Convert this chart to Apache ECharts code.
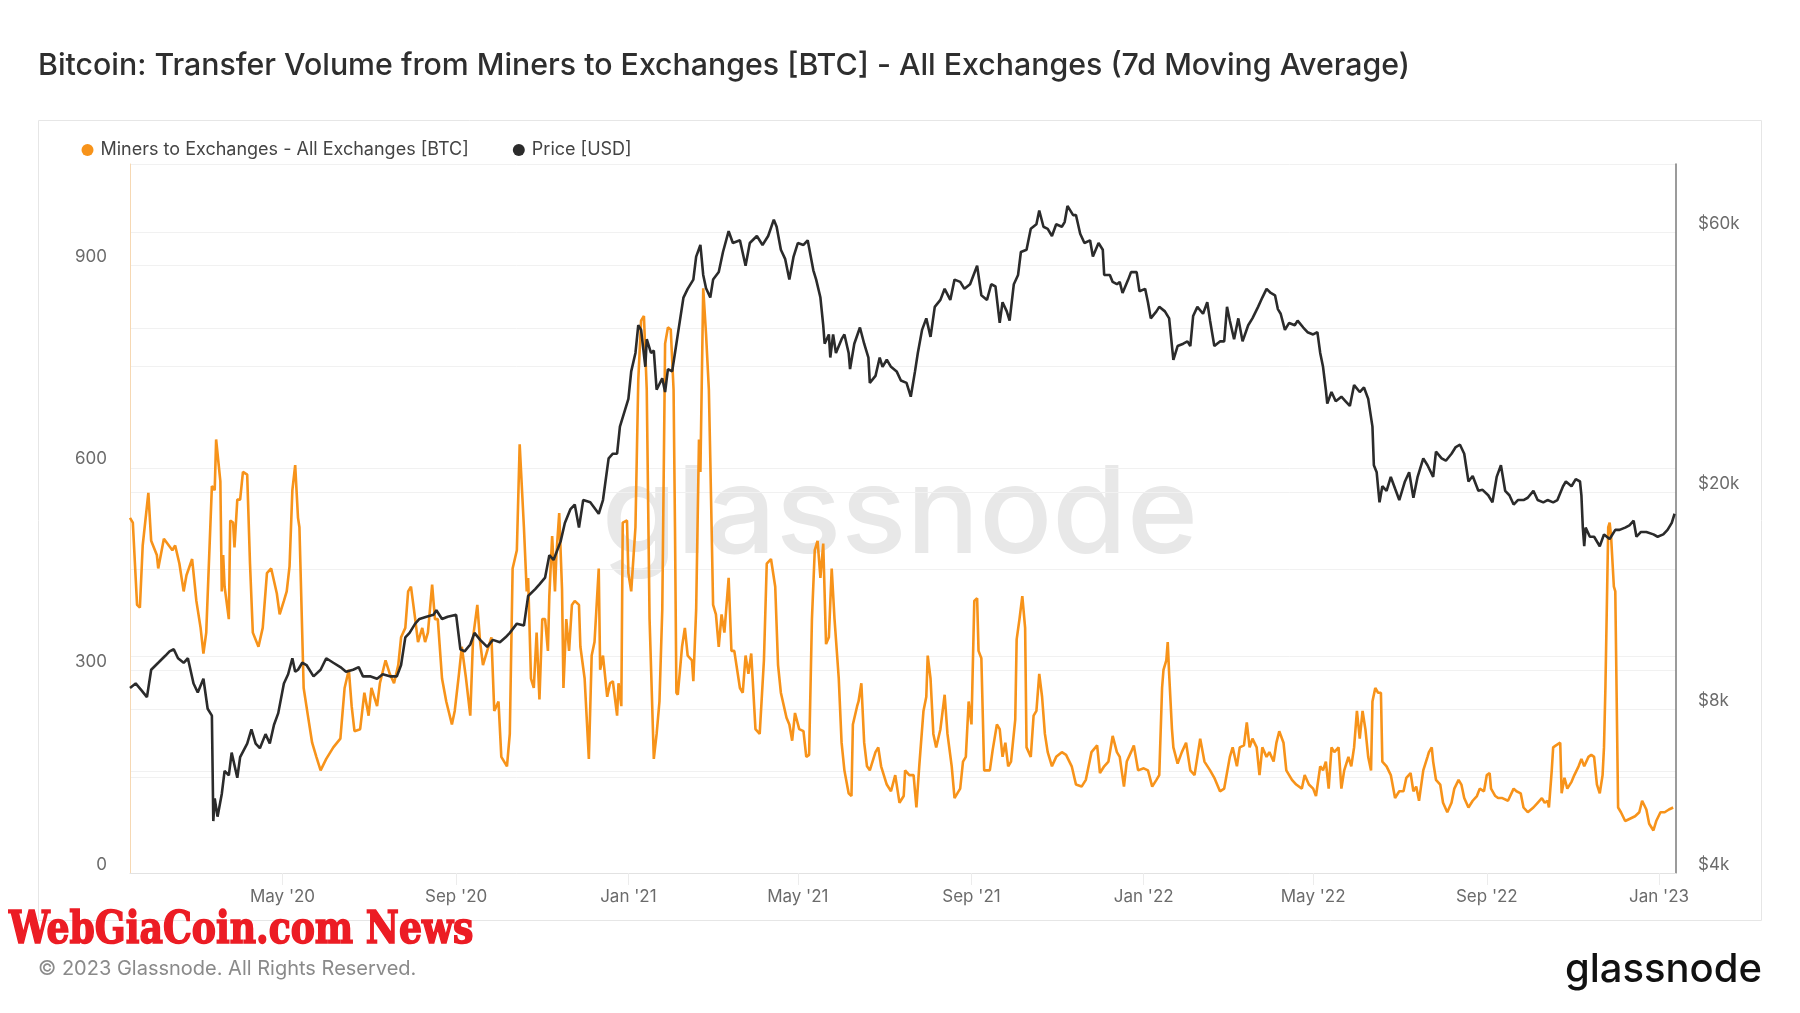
<!DOCTYPE html>
<html>
<head>
<meta charset="utf-8">
<script src="https://cdn.jsdelivr.net/npm/echarts@6/dist/echarts.min.js"></script>
<style>
html,body{margin:0;padding:0;background:#ffffff;}
#chart{width:1800px;height:1013px;}
</style>
</head>
<body>
<div id="chart"></div>
<script>
// ---------------- DATA ----------------
const TITLE = 'Bitcoin: Transfer Volume from Miners to Exchanges [BTC] - All Exchanges (7d Moving Average)';
const SERIES_NAMES = ['Miners to Exchanges - All Exchanges [BTC]', 'Price [USD]'];
// day 0 = 14 Jan 2020 ; x values below are days since that date
const DAY0 = '2020-01-14';
const X_RANGE_DAYS = [0, 1095];

// [days since DAY0, BTC (7d MA)]
const minersToExchangesBTC = [
[0,526],[2,519],[5,397],[7,393],[9,485],[13,563],[15,492],[19,471],[20,451],[24,495],
[30,478],[32,485],[35,458],[38,417],[40,441],[44,465],[47,403],[50,363],[52,325],[54,356],
[58,573],[60,567],[61,642],[64,580],[65,417],[66,471],[67,424],[70,376],[71,522],[73,519],
[74,482],[76,553],[78,553],[80,594],[83,590],[85,458],[87,356],[91,335],[94,363],[97,444],
[100,451],[104,414],[106,383],[109,403],[111,417],[113,454],[115,567],[117,604],[119,526],[120,512],
[123,274],[126,233],[129,193],[132,172],[135,152],[139,169],[144,186],[149,199],[152,274],[155,301],
[157,247],[159,210],[163,213],[166,267],[169,233],[171,274],[175,247],[177,281],[181,315],[184,295],
[187,281],[190,308],[192,349],[195,363],[197,417],[199,424],[202,376],[204,342],[207,363],[209,342],
[211,356],[214,427],[216,376],[218,376],[221,288],[224,254],[228,220],[230,240],[233,295],[235,335],
[238,288],[241,233],[243,349],[246,397],[248,342],[250,308],[253,329],[256,349],[258,240],[261,254],
[263,172],[267,158],[269,206],[271,451],[274,478],[276,635],[279,512],[281,417],[282,437],[284,288],
[286,274],[288,356],[290,257],[292,376],[294,376],[296,329],[297,410],[299,499],[301,417],[302,471],
[304,533],[306,420],[307,274],[309,376],[311,329],[313,397],[315,403],[318,397],[319,335],[322,288],
[325,169],[327,322],[329,342],[332,451],[333,301],[335,322],[338,261],[340,281],[342,284],[345,233],
[346,281],[348,247],[349,519],[352,522],[353,444],[355,417],[358,512],[360,730],[362,818],[364,825],
[366,716],[368,376],[371,169],[373,206],[375,254],[377,390],[379,784],[381,808],[383,805],[385,716],
[386,512],[387,267],[388,264],[391,335],[393,363],[395,322],[398,315],[399,284],[401,390],[403,642],
[404,594],[406,866],[408,798],[410,716],[411,614],[413,397],[415,383],[417,335],[419,383],[421,356],
[424,437],[426,329],[428,329],[432,274],[434,267],[436,322],[438,295],[440,325],[443,213],[446,206],
[449,315],[451,458],[454,465],[457,424],[459,308],[461,267],[465,230],[467,220],[469,196],[471,237],
[474,213],[477,210],[479,172],[481,175],[483,376],[485,478],[487,492],[489,437],[491,488],[493,339],
[495,349],[497,451],[499,376],[502,288],[504,193],[506,152],[509,118],[511,114],[512,220],[515,247],
[516,254],[518,281],[520,193],[522,158],[524,152],[528,179],[530,186],[532,158],[536,131],[539,121],
[542,145],[545,104],[548,114],[549,152],[552,145],[555,145],[557,97],[559,158],[562,240],[564,261],
[565,322],[567,288],[569,206],[571,186],[574,213],[577,264],[579,206],[582,158],[584,111],[588,125],
[590,165],[592,172],[594,254],[596,220],[598,403],[600,407],[601,329],[603,318],[605,152],[609,152],
[611,182],[614,220],[616,213],[618,172],[620,193],[622,158],[624,165],[627,227],[628,346],[630,376],
[632,410],[634,363],[635,186],[638,172],[640,233],[642,240],[644,295],[646,261],[648,206],[650,179],
[653,158],[656,172],[660,179],[663,175],[667,158],[670,131],[674,128],[677,138],[681,179],[685,189],
[687,148],[690,158],[693,165],[696,203],[699,179],[701,172],[704,128],[706,165],[709,179],[711,189],
[714,152],[718,155],[721,152],[724,128],[727,138],[729,145],[731,274],[732,301],[734,315],[735,342],
[736,295],[738,213],[739,186],[742,162],[745,179],[748,193],[751,152],[754,145],[758,199],[761,165],
[765,152],[768,141],[772,121],[775,125],[779,172],[781,186],[784,158],[786,186],[789,189],[791,223],
[793,186],[795,199],[798,186],[800,145],[802,186],[805,172],[807,179],[810,165],[812,193],[814,210],
[817,193],[819,152],[823,138],[826,131],[830,125],[832,145],[835,131],[838,125],[840,114],[843,158],
[845,152],[847,165],[849,125],[851,186],[853,179],[856,186],[858,125],[860,152],[863,172],[865,158],
[867,186],[869,240],[871,199],[873,240],[875,213],[877,172],[879,152],[880,254],[882,274],[884,267],
[886,267],[887,165],[890,158],[893,145],[896,111],[899,121],[902,121],[904,141],[907,148],[909,121],
[911,128],[913,107],[916,152],[919,172],[920,179],[922,186],[923,165],[925,138],[928,131],[930,104],
[933,90],[936,104],[938,125],[941,138],[943,131],[945,111],[948,97],[951,107],[954,114],[956,125],
[959,121],[961,145],[963,148],[964,125],[967,114],[969,111],[972,111],[976,107],[980,125],[982,121],
[985,118],[987,97],[990,90],[994,97],[997,104],[1000,111],[1002,104],[1004,107],[1005,97],[1007,152],
[1008,186],[1010,189],[1013,193],[1014,118],[1016,141],[1018,125],[1021,135],[1023,145],[1026,158],[1028,169],
[1030,158],[1033,172],[1035,175],[1037,172],[1039,131],[1041,118],[1043,145],[1044,186],[1045,274],[1047,512],
[1048,519],[1049,499],[1051,424],[1052,417],[1054,97],[1056,90],[1059,77],[1062,80],[1066,84],[1069,90],
[1071,107],[1074,94],[1076,73],[1079,63],[1081,77],[1084,90],[1087,90],[1090,94],[1093,97]
];

// [days since DAY0, BTC price USD]
const btcPriceUSD = [
[0,8744],[4,8911],[8,8661],[12,8411],[15,9443],[20,9724],[25,10015],[28,10202],[31,10296],[34,9911],
[38,9724],[41,9911],[45,8911],[48,8578],[52,9088],[55,8005],[58,7776],[59,4981],[60,5481],[62,5075],
[65,5585],[67,6158],[70,6044],[72,6652],[76,5981],[78,6527],[83,6912],[86,7339],[89,6912],[92,6777],
[96,7193],[99,6912],[102,7485],[105,7860],[109,8911],[112,9265],[115,9911],[117,9359],[119,9443],[122,9724],
[125,9630],[130,9182],[135,9443],[139,9911],[144,9724],[149,9547],[153,9359],[158,9443],[162,9547],[165,9182],
[170,9182],[175,9088],[179,9265],[184,9182],[189,9182],[192,9630],[195,10826],[198,11034],[202,11471],[205,11700],
[210,11814],[215,11908],[217,12137],[221,11700],[225,11814],[231,11908],[234,10296],[237,10202],[241,10504],[244,11034],
[248,10712],[253,10400],[257,10712],[262,10608],[266,10826],[269,11034],[274,11471],[279,11378],[282,12896],[287,13270],
[290,13541],[294,13936],[297,15316],[300,15016],[305,16239],[308,17556],[312,18614],[315,18977],[318,17214],[321,19340],
[326,19153],[332,18251],[335,19340],[339,23063],[342,23519],[345,23519],[347,26372],[351,28514],[353,29653],[355,33306],
[358,36008],[360,40479],[362,39692],[365,33958],[366,38160],[369,36008],[371,36360],[373,30822],[377,32354],[379,30522],
[381,33627],[384,33306],[386,36008],[388,38937],[392,45499],[395,47208],[399,49088],[401,54098],[404,56815],[406,50059],
[408,47311],[411,45499],[413,49088],[417,50669],[420,55162],[424,60224],[427,57290],[432,57951],[436,52043],[439,57290],
[444,59015],[448,56815],[452,59015],[456,63240],[458,61360],[461,55699],[464,53582],[467,49088],[470,54098],[473,57290],
[477,56815],[480,57951],[484,51051],[486,49088],[489,45499],[491,40479],[492,37436],[495,38937],[496,35314],[498,38937],
[500,36008],[504,38160],[506,38937],[509,36008],[510,33627],[513,37436],[517,40086],[520,37436],[523,35314],[524,31733],
[528,32675],[531,35314],[533,33958],[536,34983],[539,33958],[543,33306],[546,32054],[550,31733],[553,29932],[556,33306],
[558,36008],[561,39692],[564,41669],[567,38533],[570,43749],[574,45054],[577,47208],[581,45054],[584,49088],[588,48613],
[591,47208],[595,48138],[600,52043],[603,45933],[607,45054],[610,48138],[613,47673],[616,40872],[618,44619],[621,42921],
[623,41265],[626,48138],[629,50059],[631,55162],[635,55699],[638,60823],[642,62011],[644,65730],[647,61360],[650,60823],
[653,59015],[656,62011],[660,61360],[662,62600],[664,67011],[668,64470],[670,64470],[673,59594],[676,57290],[680,57951],
[682,54098],[686,57290],[689,55699],[690,50059],[694,50059],[696,48613],[699,48138],[701,48613],[703,46389],[707,49088],
[709,50669],[713,50669],[715,46733],[719,47208],[721,44619],[723,41669],[727,42921],[729,43749],[733,42921],[736,41669],
[739,34983],[742,37074],[746,37436],[749,37809],[751,37074],[753,42083],[756,43749],[760,42497],[763,44619],[765,41265],
[768,37074],[772,37809],[775,37809],[777,43749],[779,41265],[782,38160],[785,41669],[788,37809],[792,40479],[795,41669],
[799,43749],[802,45499],[805,47208],[808,46389],[811,45933],[813,43335],[815,42497],[818,39692],[821,40872],[825,40479],
[827,41265],[831,40086],[834,39309],[838,38937],[841,39309],[843,36008],[845,33958],[847,30822],[848,29073],[851,30522],
[854,29353],[858,29932],[861,29353],[864,28783],[867,31433],[871,30522],[874,31122],[877,29653],[880,26372],[881,22399],
[883,21746],[885,19153],[887,20501],[890,20107],[893,21321],[896,20304],[899,19340],[903,20916],[906,21746],[909,19527],
[912,21331],[916,23063],[919,22399],[923,21331],[925,23737],[929,23063],[932,22835],[936,23519],[939,24193],[942,24432],
[945,23519],[948,20916],[951,21414],[955,20107],[958,20190],[962,19734],[965,19153],[968,21331],[971,22399],[974,20107],
[977,19734],[980,18977],[983,19340],[987,19340],[990,19527],[994,20107],[997,19340],[1001,19153],[1004,19340],[1008,19153],
[1011,19340],[1015,20501],[1017,20916],[1021,20501],[1024,21124],[1027,20916],[1028,19734],[1029,17214],[1030,15908],[1031,17214],
[1034,16561],[1037,16561],[1041,15908],[1044,16727],[1048,16405],[1052,17048],[1055,17048],[1059,17214],[1062,17380],[1065,17722],
[1067,16561],[1070,16893],[1074,16893],[1079,16727],[1082,16561],[1086,16727],[1089,17048],[1092,17556],[1094,18251]
];

// x-axis tick dates and labels
const xTickDates  = ['2020-05-01','2020-09-01','2021-01-01','2021-05-01','2021-09-01','2022-01-01','2022-05-01','2022-09-01','2023-01-01'];
const xTickLabels = ["May '20","Sep '20","Jan '21","May '21","Sep '21","Jan '22","May '22","Sep '22","Jan '23"];
// left axis (BTC)
const leftRange = [0, 1050];
const leftGridStep = 150;
const leftTickValues = [0, 300, 600, 900];
// right axis (USD, log)
const rightRange = [4000, 80000];
const rightGridValues = [4000, 6000, 8000, 10000, 20000, 40000, 60000];
const rightTickValues = [4000, 8000, 20000, 60000];
const rightTickLabels = ['$4k', '$8k', '$20k', '$60k'];

// ---------------- CHART ----------------
const FONT = 'Inter, "Noto Sans", sans-serif';
const DAY_MS = 86400000;
const utc = s => { const p = s.split('-').map(Number); return Date.UTC(p[0], p[1] - 1, p[2]); };
const dateToDay = s => Math.round((utc(s) - utc(DAY0)) / DAY_MS);
const xTickDays = xTickDates.map(dateToDay);

const chart = echarts.init(document.getElementById('chart'), null, { renderer: 'canvas' });

const axisLabelStyle = { color: '#6b6b6b', fontSize: 17, fontFamily: FONT };

const option = {
  animation: false,
  backgroundColor: '#ffffff',
  textStyle: { fontFamily: FONT },
  title: {
    text: TITLE, left: 38, top: 48, padding: 0,
    textStyle: { fontFamily: FONT, fontSize: 30.3, fontWeight: 500, color: '#2e2e2e', lineHeight: 36 }
  },
  legend: {
    left: 81.5, top: 140, padding: 0, itemGap: 44, itemWidth: 16, itemHeight: 12, icon: 'circle',
    textStyle: { fontFamily: FONT, fontSize: 18, color: '#444444', lineHeight: 20 },
    data: SERIES_NAMES
  },
  grid: { left: 130, right: 124, top: 164, bottom: 140, containLabel: false },
  xAxis: {
    type: 'value',
    min: X_RANGE_DAYS[0], max: X_RANGE_DAYS[1],
    axisLine: { show: true, onZero: false, lineStyle: { color: '#e2e2e2', width: 1 } },
    axisTick: { show: true, customValues: xTickDays, length: 12, lineStyle: { color: '#ececec' } },
    axisLabel: Object.assign({
      customValues: xTickDays, margin: 15,
      formatter: v => { const i = xTickDays.indexOf(v); return i >= 0 ? xTickLabels[i] : ''; }
    }, axisLabelStyle),
    splitLine: { show: false }
  },
  yAxis: [
    {
      type: 'value', position: 'left', min: leftRange[0], max: leftRange[1], interval: leftGridStep,
      axisLine: { show: true, lineStyle: { color: '#f6d8b3', width: 1 } },
      axisTick: { show: false },
      axisLabel: Object.assign({
        customValues: leftTickValues, margin: 23, verticalAlign: 'bottom', padding: 0
      }, axisLabelStyle),
      splitLine: { show: true, lineStyle: { color: '#f1f1f1', width: 1 } }
    },
    {
      type: 'log', logBase: 10, position: 'right', min: rightRange[0], max: rightRange[1],
      axisLine: { show: true, lineStyle: { color: '#7a7a7a', width: 1.5 } },
      axisTick: { show: false, customValues: rightGridValues },
      axisLabel: Object.assign({
        customValues: rightTickValues, margin: 22, verticalAlign: 'bottom', padding: 0,
        formatter: v => { const i = rightTickValues.indexOf(v); return i >= 0 ? rightTickLabels[i] : ''; }
      }, axisLabelStyle),
      splitLine: { show: true, lineStyle: { color: '#f1f1f1', width: 1 } }
    }
  ],
  graphic: [
    { type: 'rect', z: -10, silent: true,
      shape: { x: 38.5, y: 120.5, width: 1723, height: 800 },
      style: { fill: 'none', stroke: '#e6e6e6', lineWidth: 1 } },
    { type: 'text', x: 900, y: 517, z: 0, silent: true,
      style: { text: 'glassnode', fill: '#e8e8e8', fontSize: 121, fontWeight: 500, fontFamily: FONT, align: 'center', verticalAlign: 'middle' } },
    { type: 'text', x: 38, y: 969, silent: true,
      style: { text: '© 2023 Glassnode. All Rights Reserved.', fill: '#8a8a8a', fontSize: 20, fontFamily: FONT, align: 'left', verticalAlign: 'middle' } },
    { type: 'text', x: 1762, y: 970, silent: true,
      style: { text: 'glassnode', fill: '#111111', fontSize: 40, fontWeight: 500, fontFamily: FONT, align: 'right', verticalAlign: 'middle' } },
    { type: 'text', x: 9, y: 932, scaleX: 0.915, silent: true,
      style: { text: 'WebGiaCoin.com News', fill: '#ec1c24', stroke: '#ec1c24', lineWidth: 1.5, fontSize: 44, fontWeight: 'bold', fontFamily: '"DejaVu Serif Condensed", "DejaVu Serif", serif', align: 'left', verticalAlign: 'middle' } }
  ],
  series: [
    {
      name: SERIES_NAMES[0], type: 'line', yAxisIndex: 0, color: '#f7931a',
      showSymbol: false, symbol: 'none', z: 3,
      lineStyle: { color: '#f7931a', width: 2.6 },
      data: minersToExchangesBTC
    },
    {
      name: SERIES_NAMES[1], type: 'line', yAxisIndex: 1, color: '#2b2b2b',
      showSymbol: false, symbol: 'none', z: 4,
      lineStyle: { color: '#2b2b2b', width: 2.6 },
      data: btcPriceUSD
    }
  ]
};
chart.setOption(option);
</script>
</body>
</html>
